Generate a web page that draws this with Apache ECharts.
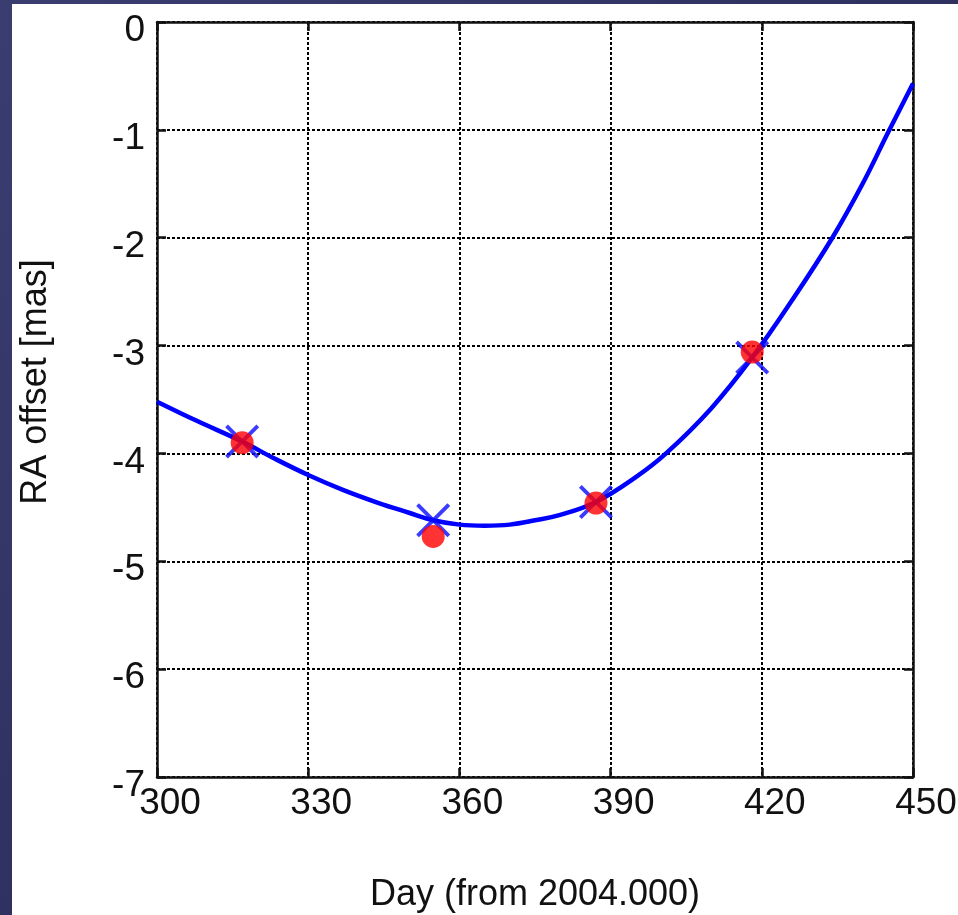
<!DOCTYPE html>
<html>
<head>
<meta charset="utf-8">
<script src="https://cdn.jsdelivr.net/npm/echarts@6/dist/echarts.min.js"></script>
<style>
html,body{margin:0;padding:0;background:#2c2f5e;}
#chart{width:958px;height:915px;}
</style>
</head>
<body>
<div id="chart"></div>
<script>
// Tick labels
var xTicks = [300, 330, 360, 390, 420, 450];
var yTicks = [0, -1, -2, -3, -4, -5, -6, -7];
// Observed positions (red dots)
var obsDays = [316.9, 354.8, 387.1, 418.1];
var obsRA = [-3.90, -4.77, -4.46, -3.06];
// Model positions (blue crosses)
var modelDays = [316.9, 354.8, 387.1, 418.1];
var modelRA = [-3.89, -4.62, -4.45, -3.11];
// Fitted curve (blue line)
var curveDays = [300, 308, 316.9, 323, 330, 337, 344, 350, 354.8, 360, 365, 370, 375, 380, 387.1, 395, 401, 410, 418.1, 426, 434, 440, 445, 450];
var curveRA = [-3.52, -3.70, -3.89, -4.04, -4.20, -4.34, -4.46, -4.55, -4.62, -4.66, -4.67, -4.66, -4.62, -4.57, -4.45, -4.22, -4.00, -3.58, -3.11, -2.58, -2.00, -1.50, -1.03, -0.57];

function zip(a, b) { return a.map(function (v, i) { return [v, b[i]]; }); }

var chart = echarts.init(document.getElementById('chart'), null, {renderer: 'canvas'});
var font = 'Liberation Sans, Arial, sans-serif';
var gridLine = {show: true, lineStyle: {color: '#000', width: 2, type: [3, 2]}};
var X_PATH = 'path://M0,8 L8,0 L50,42 L92,0 L100,8 L58,50 L100,92 L92,100 L50,58 L8,100 L0,92 L42,50 Z';
var labelText = {fontFamily: font, fontSize: 37, color: '#111'};

chart.setOption({
  backgroundColor: {
    type: 'linear', x: 0, y: 0, x2: 1, y2: 1,
    colorStops: [{offset: 0, color: '#3a3d70'}, {offset: 1, color: '#23264f'}]
  },
  animation: false,
  graphic: [{
    type: 'rect', z: -10, silent: true,
    shape: {x: 12, y: 4, width: 946, height: 911},
    style: {fill: '#ffffff'}
  }, {
    type: 'text', z: 10, silent: true,
    x: 36, y: 382, rotation: Math.PI / 2,
    style: {text: 'RA offset [mas]', fontFamily: font, fontSize: 36, fill: '#111',
      textAlign: 'center', textVerticalAlign: 'middle'}
  }],
  grid: {left: 157, top: 22, width: 756, height: 755, show: false,
    containLabel: false, outerBoundsMode: 'none'},
  xAxis: [{
    type: 'value', min: 300, max: 450, interval: 30,
    name: 'Day (from 2004.000)', nameLocation: 'middle', nameGap: 100,
    nameTextStyle: {fontFamily: font, fontSize: 36, color: '#111'},
    axisLine: {show: true, onZero: false, lineStyle: {color: '#111', width: 2.5}},
    axisTick: {show: true, inside: true, length: 9, lineStyle: {color: '#111', width: 2.5}},
    axisLabel: {margin: 8, hideOverlap: false,
      formatter: function (v) { return xTicks.indexOf(v) >= 0 ? '{a|' + v + '}' : ''; },
      rich: {a: Object.assign({padding: [0, 0, 0, 26]}, labelText)}},
    splitLine: gridLine
  }, {
    type: 'value', position: 'top', min: 300, max: 450, interval: 30,
    axisLine: {show: true, onZero: false, lineStyle: {color: '#111', width: 2.5}},
    axisTick: {show: true, inside: true, length: 9, lineStyle: {color: '#111', width: 2.5}},
    axisLabel: {show: false}, splitLine: {show: false}
  }],
  yAxis: [{
    type: 'value', min: -7, max: 0, interval: 1,
    axisLine: {show: true, onZero: false, lineStyle: {color: '#111', width: 2.5}},
    axisTick: {show: true, inside: true, length: 9, lineStyle: {color: '#111', width: 2.5}},
    axisLabel: {margin: 12, hideOverlap: false,
      formatter: function (v) { return yTicks.indexOf(v) >= 0 ? '{a|' + v + '}' : ''; },
      rich: {a: Object.assign({padding: [18, 0, 0, 0]}, labelText)}},
    splitLine: gridLine
  }, {
    type: 'value', position: 'right', min: -7, max: 0, interval: 1,
    axisLine: {show: true, onZero: false, lineStyle: {color: '#111', width: 2.5}},
    axisTick: {show: true, inside: true, length: 9, lineStyle: {color: '#111', width: 2.5}},
    axisLabel: {show: false}, splitLine: {show: false}
  }],
  series: [{
    type: 'line', data: zip(curveDays, curveRA), smooth: 0.4, showSymbol: false,
    lineStyle: {color: '#0000ff', width: 4.5}, z: 3
  }, {
    type: 'scatter', data: zip(modelDays, modelRA), symbol: X_PATH, symbolSize: 34,
    itemStyle: {color: '#0a0aff'}, z: 4
  }, {
    type: 'scatter', data: zip(obsDays, obsRA), symbol: 'circle', symbolSize: 23,
    itemStyle: {color: '#ff0000'}, z: 5
  }]
});
</script>
</body>
</html>
